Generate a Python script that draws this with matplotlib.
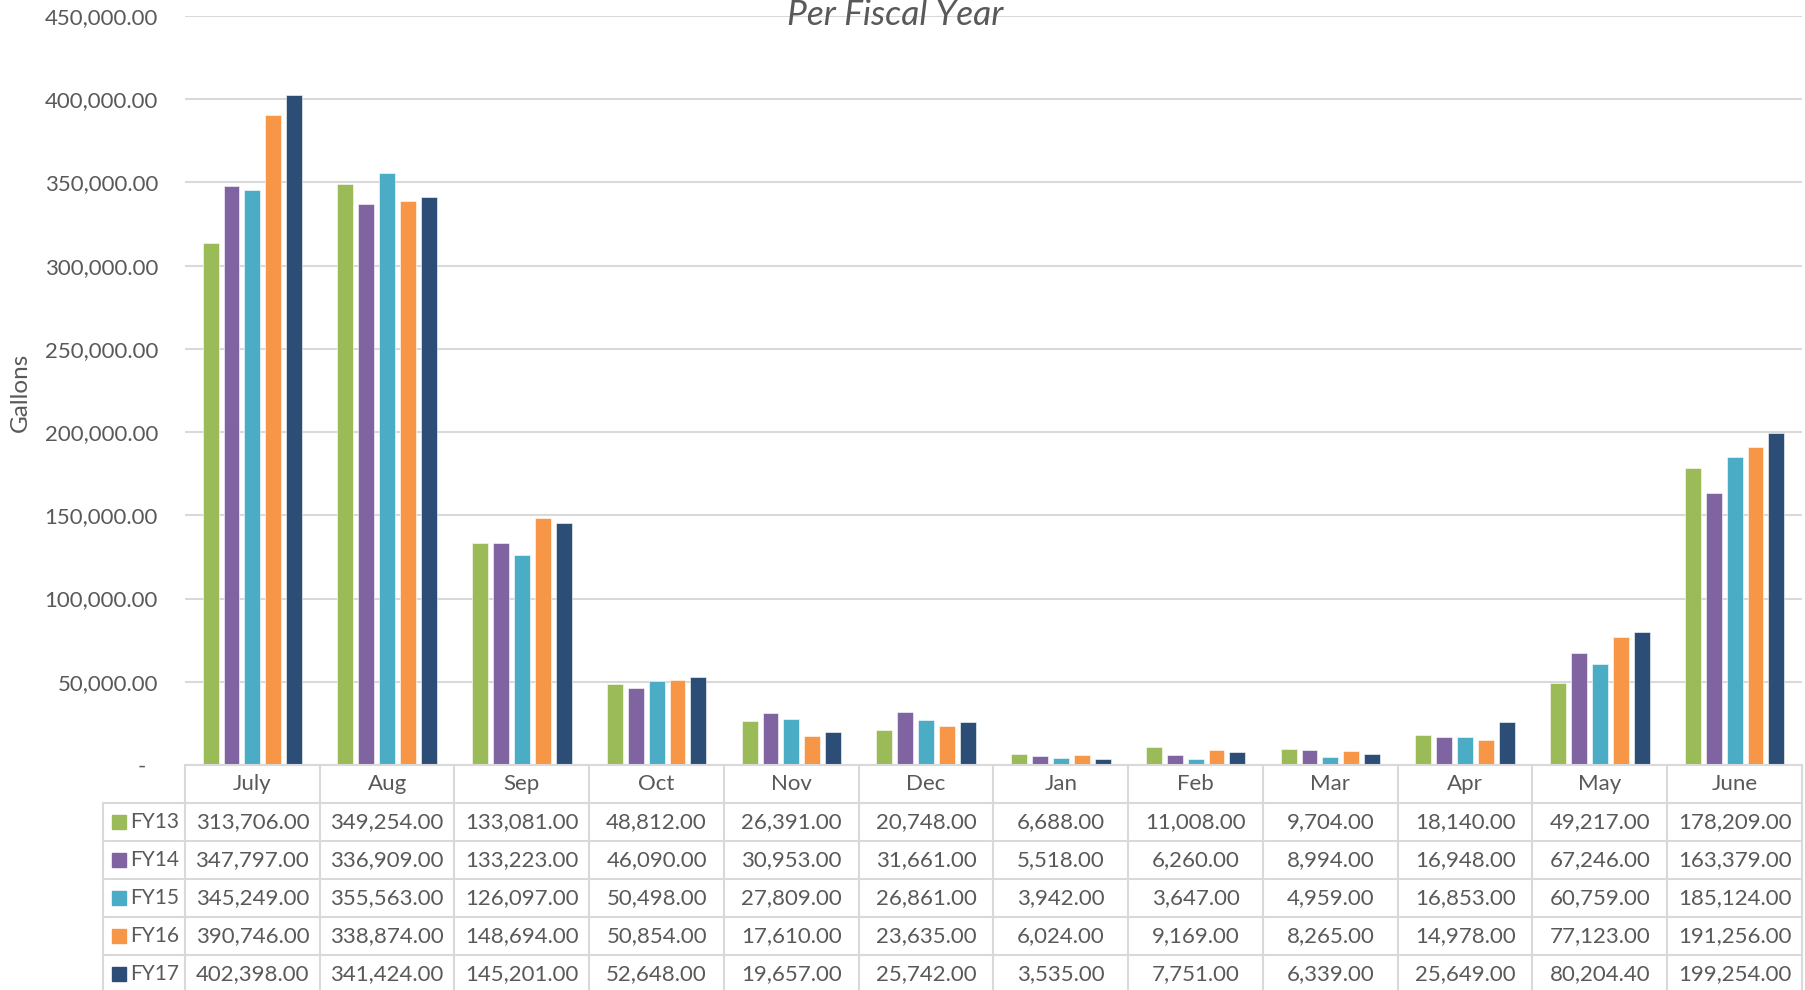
import numpy as np
import matplotlib.pyplot as plt

# Monthly gallons per fiscal year
months = ['July', 'Aug', 'Sep', 'Oct', 'Nov', 'Dec', 'Jan', 'Feb', 'Mar', 'Apr', 'May', 'June']
fy13 = [313706, 349254, 133081, 48812, 26391, 20748, 6688, 11008, 9704, 18140, 49217, 178209]
fy14 = [347797, 336909, 133223, 46090, 30953, 31661, 5518, 6260, 8994, 16948, 67246, 163379]
fy15 = [345249, 355563, 126097, 50498, 27809, 26861, 3942, 3647, 4959, 16853, 60759, 185124]
fy16 = [390746, 338874, 148694, 50854, 17610, 23635, 6024, 9169, 8265, 14978, 77123, 191256]
fy17 = [402398, 341424, 145201, 52648, 19657, 25742, 3535, 7751, 6339, 25649, 80204.40, 199254]
series_names = ['FY13', 'FY14', 'FY15', 'FY16', 'FY17']
series = [fy13, fy14, fy15, fy16, fy17]
colors = ['#9BBB59', '#8064A2', '#4BACC6', '#F79646', '#2C4D75']

TXT = '#595959'
GRID = '#D9D9D9'
FS = 16
plt.rcParams['font.family'] = ['Lato', 'DejaVu Sans']

W, H = 1806, 990


def px(l, t, r, b):
    return [l / W, 1 - b / H, (r - l) / W, (b - t) / H]


fig = plt.figure(figsize=(W / 100, H / 100), dpi=100)
ax = fig.add_axes(px(185, 16, 1802, 765))

x = np.arange(len(months))
step, width = 0.155, 0.118
for i, (vals, c) in enumerate(zip(series, colors)):
    ax.bar(x + (i - 2) * step, vals, width, color=c, edgecolor='white', linewidth=0.4, zorder=3)

ax.set_xlim(-0.5, len(months) - 0.5)
ax.set_ylim(0, 450000)
yt = list(range(0, 450001, 50000))
ax.set_yticks(yt)
ax.set_yticklabels(['-  '] + [f'{v:,.2f}' for v in yt[1:]])
ax.yaxis.grid(True, color=GRID, lw=1.5)
ax.set_axisbelow(True)
ax.tick_params(axis='y', length=0, pad=19.5, labelsize=FS, labelcolor=TXT)
ax.set_xticks([])
for s in ax.spines.values():
    s.set_visible(False)

fig.text(895 / W, 1 - 25 / H, 'Per Fiscal Year', ha='center', va='baseline',
         fontsize=25.5, fontstyle='italic', color=TXT)
fig.text(20 / W, 1 - 392 / H, 'Gallons', rotation=90, ha='center', va='center',
         fontsize=17.5, color=TXT)

# data table under the chart
unit = (1802 - 185) / len(months)
lx = -0.5 - (185 - 103) / unit
tax = fig.add_axes(px(103, 765, 1802, 993))
tax.set_xlim(lx, len(months) - 0.5)
tax.set_ylim(6, 0)
tax.axis('off')

lk = dict(color=GRID, lw=1.5, clip_on=False, solid_capstyle='projecting')
tax.plot([-0.5, len(months) - 0.5], [0, 0], **lk)
for r in range(1, 7):
    tax.plot([lx, len(months) - 0.5], [r, r], **lk)
tax.plot([lx, lx], [1, 6], **lk)
for k in range(len(months) + 1):
    tax.plot([k - 0.5, k - 0.5], [0, 6], **lk)

for i, m in enumerate(months):
    tax.text(i, 0.5, m, ha='center', va='center', fontsize=FS, color=TXT)

for r, (name, vals, c) in enumerate(zip(series_names, series, colors)):
    y = r + 1.5
    tax.plot(lx + 16 / unit, y, 's', ms=10, color=c, clip_on=False)
    tax.text(lx + 27 / unit, y, name, ha='left', va='center', fontsize=15, color=TXT)
    for i, v in enumerate(vals):
        tax.text(i, y, f'{v:,.2f}', ha='center', va='center', fontsize=FS, color=TXT)

fig.savefig('out.png', dpi=100)
